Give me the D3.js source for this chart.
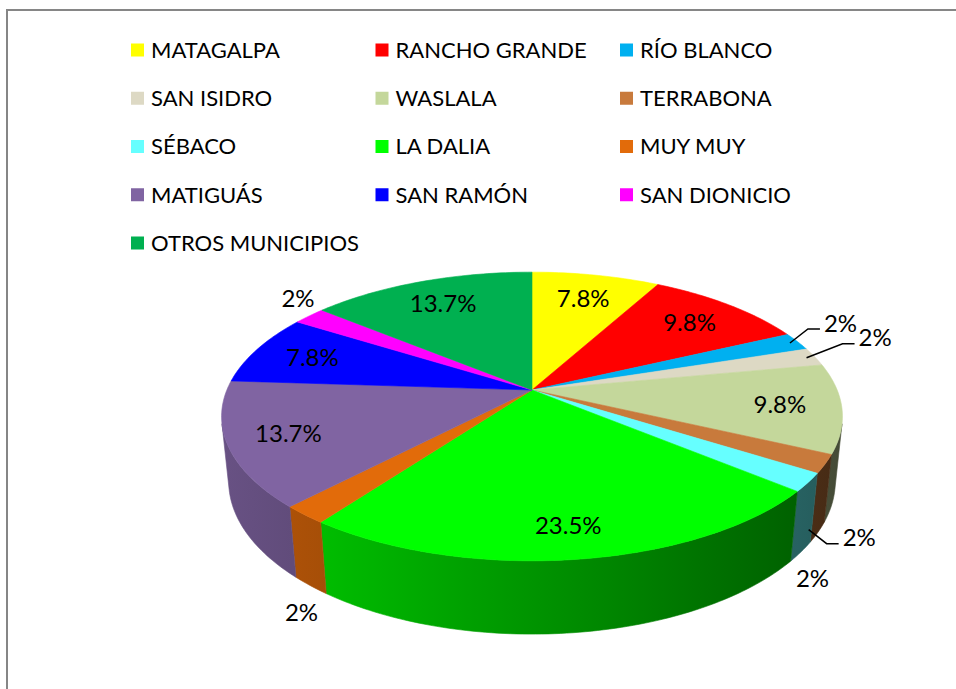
<!DOCTYPE html>
<html>
<head>
<meta charset="utf-8">
<script src="https://cdn.jsdelivr.net/npm/d3@7/dist/d3.min.js"></script>
<style>
  body { margin: 0; background: #fff; }
  text { font-family: Lato, "Liberation Sans", sans-serif; fill: #000; }
</style>
</head>
<body>
<div id="chart"></div>
<script>
var municipios = ["MATAGALPA", "RANCHO GRANDE", "RÍO BLANCO", "SAN ISIDRO", "WASLALA", "TERRABONA",
  "SÉBACO", "LA DALIA", "MUY MUY", "MATIGUÁS", "SAN RAMÓN", "SAN DIONICIO", "OTROS MUNICIPIOS"];
var porcentajes = [7.8, 9.8, 2, 2, 9.8, 2, 2, 23.5, 2, 13.7, 7.8, 2, 13.7];
var colores = ["#FFFF00", "#FF0000", "#00B0F0", "#DDD9C4", "#C4D79B", "#C87A3C",
  "#66FFFF", "#00FF00", "#E26B0A", "#8064A2", "#0000FF", "#FF00FF", "#00B050"];
// labels that Excel moved out with a leader line
var conGuia = ["RÍO BLANCO", "SAN ISIDRO", "TERRABONA"];

(function() {
  var width = 956, height = 689;

  var svg = d3.select("#chart")
    .append("svg")
    .attr("width", width)
    .attr("height", height);

  var defs = svg.append("defs");

  // chart area border (runs off right and bottom)
  svg.append("rect")
    .attr("x", 7)
    .attr("y", 10)
    .attr("width", width + 20)
    .attr("height", height + 20)
    .attr("fill", "none")
    .attr("stroke", "#868686")
    .attr("stroke-width", 2);

  // legend, 3 columns
  var colScale = d3.scaleLinear().domain([0, 2]).range([131, 620]);
  var rowScale = d3.scaleLinear().domain([0, 4]).range([50, 243]);

  var legend = svg.selectAll(".legenditem")
    .data(municipios)
    .enter().append("g")
    .attr("class", "legenditem")
    .attr("transform", function(d, i) {
      return "translate(" + colScale(i % 3) + "," + rowScale(Math.floor(i / 3)) + ")";
    });

  legend.append("rect")
    .attr("x", 0)
    .attr("y", -6.5)
    .attr("width", 13)
    .attr("height", 13)
    .attr("fill", function(d, i) { return colores[i]; });

  legend.append("text")
    .attr("x", 20)
    .attr("dy", "0.36em")
    .style("font-size", "22px")
    .text(function(d) { return d; });

  // 3d pie: simple perspective camera
  var cx = 532, cy = 390;
  var D = 4.85, F = 1480, depth = 0.241;
  var tilt = 27.2 * Math.PI / 180;
  var S = Math.sin(tilt), C = Math.cos(tilt);

  function proj(a, r, z) {
    var x = r * Math.sin(a), y = -r * Math.cos(a);
    var d = D - y * C - z * S;
    return [cx + F * x / d, cy + F * (y * S - z * C) / d];
  }

  function rimPoints(a0, a1, z) {
    var n = Math.max(2, Math.ceil((a1 - a0) / (Math.PI / 180)));
    return d3.range(n + 1).map(function(k) {
      return proj(a0 + (a1 - a0) * k / n, 1, z);
    });
  }

  var pie = d3.pie().sort(null).value(function(d) { return d; });
  var arcs = pie(porcentajes);
  var line = d3.line();

  // visible part of the wall
  var lim = Math.acos(-1 / (D * C));
  var lo = lim, hi = 2 * Math.PI - lim;

  function shade(u) { return 0.58 - 0.24 * u; }

  arcs.forEach(function(d, i) {
    var g = defs.append("linearGradient")
      .attr("id", "side" + i)
      .attr("gradientUnits", "userSpaceOnUse")
      .attr("x1", cx - 320).attr("x2", cx + 320)
      .attr("y1", 0).attr("y2", 0);
    d3.range(9).forEach(function(k) {
      var u = -1 + k / 4;
      g.append("stop")
        .attr("offset", k / 8)
        .attr("stop-color", d3.interpolateRgb("#000", colores[i])(shade(u)));
    });
  });

  svg.selectAll(".side")
    .data(arcs.filter(function(d) { return d.endAngle > lo && d.startAngle < hi; }))
    .enter().append("path")
    .attr("class", "side")
    .attr("d", function(d) {
      var a0 = Math.max(d.startAngle, lo), a1 = Math.min(d.endAngle, hi);
      var pts = rimPoints(a0, a1, 0).concat(rimPoints(a0, a1, -depth).reverse());
      return line(pts) + "Z";
    })
    .attr("fill", function(d) { return "url(#side" + d.index + ")"; })
    .attr("stroke", function(d) { return "url(#side" + d.index + ")"; })
    .attr("stroke-width", 0.6);

  svg.selectAll(".top")
    .data(arcs)
    .enter().append("path")
    .attr("class", "top")
    .attr("d", function(d) {
      return line([proj(0, 0, 0)].concat(rimPoints(d.startAngle, d.endAngle, 0))) + "Z";
    })
    .attr("fill", function(d) { return colores[d.index]; })
    .attr("stroke", function(d) { return colores[d.index]; })
    .attr("stroke-width", 0.6);

  function labelText(d) { return d.value + "%"; }
  function isFront(a) { return Math.cos(a) < 0; }

  // inside labels
  var inner = arcs.filter(function(d) { return d.value >= 3; });
  svg.selectAll(".inlabel")
    .data(inner)
    .enter().append("text")
    .attr("class", "inlabel")
    .attr("x", function(d) {
      var a = (d.startAngle + d.endAngle) / 2;
      return cx + 0.8 * (proj(a, 1, 0)[0] - cx);
    })
    .attr("y", function(d) {
      var a = (d.startAngle + d.endAngle) / 2;
      return cy + 0.8 * (proj(a, 1, 0)[1] - cy);
    })
    .attr("dy", "0.36em")
    .style("font-size", "24px")
    .style("text-anchor", "middle")
    .text(labelText);

  // outside labels
  var boxes = [];
  var outer = arcs.filter(function(d) { return d.value < 3; });

  outer.forEach(function(d) {
    var a = (d.startAngle + d.endAngle) / 2;
    var z = isFront(a) ? -depth : 0;
    var name = municipios[d.index];
    var t = svg.append("text")
      .attr("class", "outlabel")
      .attr("dy", "0.36em")
      .style("font-size", "24px")
      .text(labelText(d));
    var w = t.node().getComputedTextLength();

    if (conGuia.indexOf(name) < 0) {
      var p = proj(a, 1, z);
      var x = p[0] + 14 * Math.sin(a);
      var y = p[1] + (isFront(a) ? 27 : -30 * Math.cos(a));
      t.attr("x", x).attr("y", y).style("text-anchor", "middle");
      boxes.push([x - w / 2, x + w / 2, y - 10, y + 10]);
    } else {
      var s = proj(a, 0.97, z);
      var ex = s[0] + 18, ey = s[1] + (isFront(a) ? 14 : -14);
      var box = function() {
        return [ex + 16, ex + 16 + w, ey - 16, ey + 4];
      };
      var hit = function(b) {
        return boxes.some(function(o) {
          return b[0] < o[1] && b[1] > o[0] && b[2] < o[3] && b[3] > o[2];
        });
      };
      while (hit(box())) { ex += 2; }
      svg.append("path")
        .attr("class", "leader")
        .attr("d", line([s, [ex, ey], [ex + 12, ey]]))
        .attr("fill", "none")
        .attr("stroke", "#000")
        .attr("stroke-width", 1.5);
      t.attr("x", ex + 16).attr("y", ey - 6).style("text-anchor", "start");
      boxes.push(box());
    }
  });
})();
</script>
</body>
</html>
